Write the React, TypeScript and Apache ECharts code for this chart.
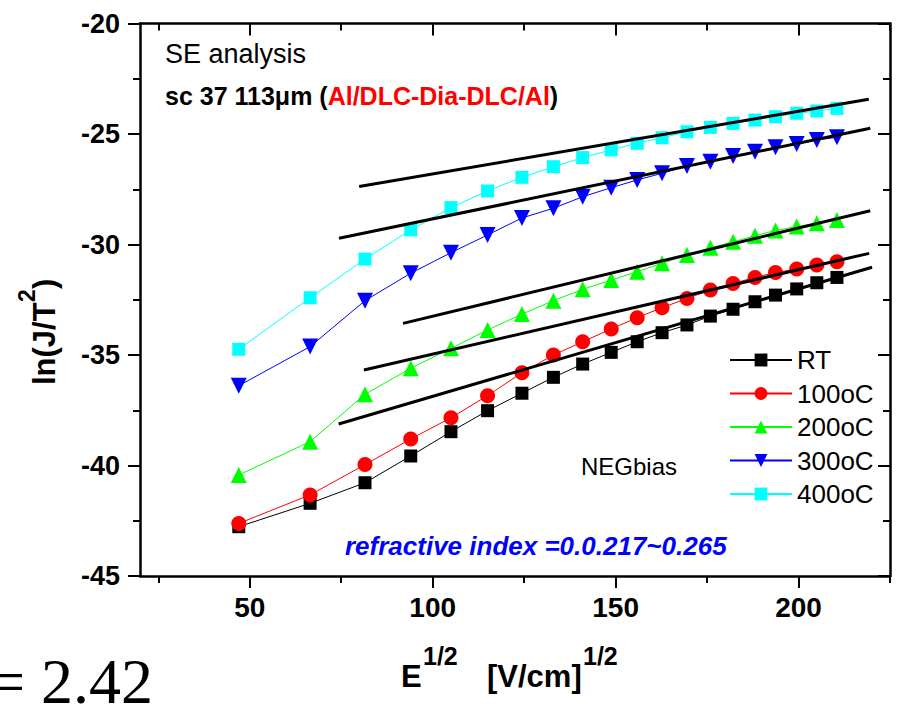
import React, { useEffect, useRef } from "react";
import * as echarts from "echarts";

// E^1/2 values (shared by all series)
const xValues = [47, 66.5, 81.5, 94, 105, 115, 124.4, 133, 141, 148.8, 155.9, 162.7, 169.5, 175.9, 182.1, 188.1, 193.7, 199.5, 205, 210.5];

const seriesNames = ["RT", "100oC", "200oC", "300oC", "400oC"];
const rtValues = [-42.77, -41.71, -40.78, -39.57, -38.47, -37.52, -36.73, -36.01, -35.41, -34.88, -34.4, -33.99, -33.64, -33.24, -32.93, -32.59, -32.29, -32.01, -31.73, -31.49];
const c100Values = [-42.62, -41.33, -39.96, -38.8, -37.84, -36.84, -35.8, -35.0, -34.4, -33.82, -33.31, -32.86, -32.44, -32.06, -31.76, -31.49, -31.27, -31.11, -30.93, -30.78];
const c200Values = [-40.43, -38.92, -36.78, -35.6, -34.7, -33.87, -33.15, -32.54, -32.03, -31.61, -31.23, -30.85, -30.48, -30.15, -29.88, -29.6, -29.37, -29.19, -29.04, -28.89];
const c300Values = [-36.39, -34.62, -32.54, -31.3, -30.37, -29.57, -28.8, -28.36, -27.84, -27.43, -27.08, -26.78, -26.45, -26.25, -26.0, -25.8, -25.6, -25.45, -25.27, -25.15];
const c400Values = [-34.74, -32.41, -30.66, -29.34, -28.33, -27.58, -26.96, -26.48, -26.07, -25.72, -25.42, -25.17, -24.9, -24.7, -24.52, -24.37, -24.22, -24.06, -23.96, -23.84];

// linear fit segments [x, y] start/end
const fitRT = [[74.3, -38.12], [220.1, -31.03]];
const fit100 = [[81.2, -35.68], [219.3, -30.4]];
const fit200 = [[91.9, -33.57], [219.6, -28.47]];
const fit300 = [[74.4, -29.72], [219.6, -24.74]];
const fit400 = [[79.9, -27.38], [219.2, -23.43]];

const xMajorTicks = [50, 100, 150, 200];
const xMinorTicks = [25, 75, 125, 175, 225];

const FONT = "'Liberation Sans', Arial, sans-serif";

export default function App() {
  const ref = useRef<HTMLDivElement>(null);
  useEffect(() => {
    const chart = echarts.init(ref.current!, null, { renderer: "svg" });
    const colors = ["#000000", "#ff0000", "#00ff00", "#0000ff", "#00ffff"];
    const dataSets = [rtValues, c100Values, c200Values, c300Values, c400Values];
    const symbols = ["rect", "circle", "triangle", "triangle", "rect"];
    const symbolSizes = [13, 15, 16, 16, 13];
    const rotates = [0, 0, 0, 180, 0];
    const fits = [fitRT, fit100, fit200, fit300, fit400];

    const dataSeries = seriesNames.map((name, i) => ({
      name,
      type: "line",
      data: xValues.map((x, k) => [x, dataSets[i][k]]),
      symbol: symbols[i],
      symbolSize: symbolSizes[i],
      symbolRotate: rotates[i],
      showAllSymbol: true,
      lineStyle: { color: colors[i], width: 1 },
      itemStyle: { color: colors[i] },
      z: 2 + i,
    }));
    const fitSeries = fits.map((f, i) => ({
      name: "fit" + i,
      type: "line",
      data: f,
      symbol: "none",
      lineStyle: { color: "#000", width: 3 },
      z: 10,
    }));

    const axisLineStyle = { color: "#000", width: 2.5 };
    const baseX = { type: "value", min: 20, max: 225, gridIndex: 0, splitLine: { show: false } };

    chart.setOption({
      animation: false,
      backgroundColor: "#fff",
      grid: { left: 140, right: 11, top: 23.5, bottom: 128, outerBoundsMode: "none", containLabel: false },
      xAxis: [
        {
          ...baseX,
          position: "bottom",
          axisLine: { show: true, onZero: false, lineStyle: axisLineStyle },
          axisTick: { show: true, inside: false, length: 12, lineStyle: { width: 2, color: "#000" }, customValues: xMajorTicks },
          axisLabel: { show: true, customValues: xMajorTicks, fontSize: 28, fontWeight: "bold", color: "#000", fontFamily: FONT, margin: 17 },
        },
        {
          ...baseX,
          position: "bottom",
          axisLine: { show: false, onZero: false },
          axisTick: { show: true, inside: false, length: 7, lineStyle: { width: 2, color: "#000" }, customValues: xMinorTicks },
          axisLabel: { show: false },
        },
        {
          ...baseX,
          position: "top",
          axisLine: { show: true, onZero: false, lineStyle: axisLineStyle },
          axisTick: { show: true, inside: true, length: 12, lineStyle: { width: 2, color: "#000" }, customValues: xMajorTicks },
          axisLabel: { show: false },
        },
        {
          ...baseX,
          position: "top",
          axisLine: { show: false, onZero: false },
          axisTick: { show: true, inside: true, length: 7, lineStyle: { width: 2, color: "#000" }, customValues: xMinorTicks },
          axisLabel: { show: false },
        },
      ],
      yAxis: [
        {
          type: "value",
          min: -45,
          max: -20,
          interval: 5,
          position: "left",
          axisLine: { show: true, onZero: false, lineStyle: axisLineStyle },
          axisTick: { show: true, inside: false, length: 12, lineStyle: { width: 2, color: "#000" } },
          minorTick: { show: true, splitNumber: 2, length: 7, lineStyle: { width: 2, color: "#000" } },
          axisLabel: { fontSize: 27, fontWeight: "bold", color: "#000", fontFamily: FONT, margin: 20 },
          splitLine: { show: false },
        },
        {
          type: "value",
          min: -45,
          max: -20,
          interval: 5,
          position: "right",
          axisLine: { show: true, onZero: false, lineStyle: axisLineStyle },
          axisTick: { show: true, inside: true, length: 12, lineStyle: { width: 2, color: "#000" } },
          minorTick: { show: true, splitNumber: 2, length: 7, lineStyle: { width: 2, color: "#000" } },
          axisLabel: { show: false },
          splitLine: { show: false },
        },
      ],
      legend: {
        data: seriesNames,
        orient: "vertical",
        left: 724,
        top: 342,
        itemWidth: 62,
        itemHeight: 16,
        itemGap: 7.5,
        textStyle: { fontSize: 26, color: "#000", fontFamily: FONT },
      },
      series: [...dataSeries, ...fitSeries],
      graphic: [
        {
          type: "text",
          x: 165,
          y: 54,
          style: { text: "SE analysis", fill: "#000", fontSize: 27, fontFamily: FONT, align: "left", verticalAlign: "middle" },
        },
        {
          type: "text",
          x: 165,
          y: 96,
          style: {
            text: "{b|sc 37 113μm (}{r|Al/DLC-Dia-DLC/Al}{b|)}",
            align: "left",
            verticalAlign: "middle",
            rich: {
              b: { fontSize: 25, fontWeight: "bold", fill: "#000", fontFamily: FONT },
              r: { fontSize: 25, fontWeight: "bold", fill: "#ff0000", fontFamily: FONT },
            },
          },
        },
        {
          type: "text",
          x: 581,
          y: 466,
          style: { text: "NEGbias", fill: "#000", fontSize: 24, fontFamily: FONT, align: "left", verticalAlign: "middle" },
        },
        {
          type: "text",
          x: 345,
          y: 546,
          style: { text: "refractive index =0.0.217~0.265", fill: "#0000ff", fontSize: 26, fontWeight: "bold", fontStyle: "italic", fontFamily: FONT, align: "left", verticalAlign: "middle" },
        },
        // x axis title
        { type: "text", x: 401, y: 676, style: { text: "E", fill: "#000", fontSize: 31, fontWeight: "bold", fontFamily: FONT, verticalAlign: "middle" } },
        { type: "text", x: 423, y: 656, style: { text: "1/2", fill: "#000", fontSize: 25, fontWeight: "bold", fontFamily: FONT, verticalAlign: "middle" } },
        { type: "text", x: 487, y: 676, style: { text: "[V/cm]", fill: "#000", fontSize: 31, fontWeight: "bold", fontFamily: FONT, verticalAlign: "middle" } },
        { type: "text", x: 583, y: 656, style: { text: "1/2", fill: "#000", fontSize: 25, fontWeight: "bold", fontFamily: FONT, verticalAlign: "middle" } },
        // y axis title, rotated
        {
          type: "group",
          x: 55,
          y: 385,
          rotation: Math.PI / 2,
          children: [
            { type: "text", x: 0, y: -11, style: { text: "ln(J/T", fill: "#000", fontSize: 31, fontWeight: "bold", fontFamily: FONT, verticalAlign: "middle" } },
            { type: "text", x: 83, y: -28, style: { text: "2", fill: "#000", fontSize: 23, fontWeight: "bold", fontFamily: FONT, verticalAlign: "middle" } },
            { type: "text", x: 96, y: -11, style: { text: ")", fill: "#000", fontSize: 31, fontWeight: "bold", fontFamily: FONT, verticalAlign: "middle" } },
          ],
        },
        // cut-off equation fragment at bottom left
        {
          type: "text",
          x: -11,
          y: 681,
          style: { text: "= 2.42", fill: "#000", fontSize: 64, fontFamily: "'Liberation Serif', 'Times New Roman', serif", verticalAlign: "middle" },
        },
      ],
    });
    return () => chart.dispose();
  }, []);
  return <div ref={ref} style={{ position: "absolute", left: 0, top: 0, width: 901, height: 704 }} />;
}
